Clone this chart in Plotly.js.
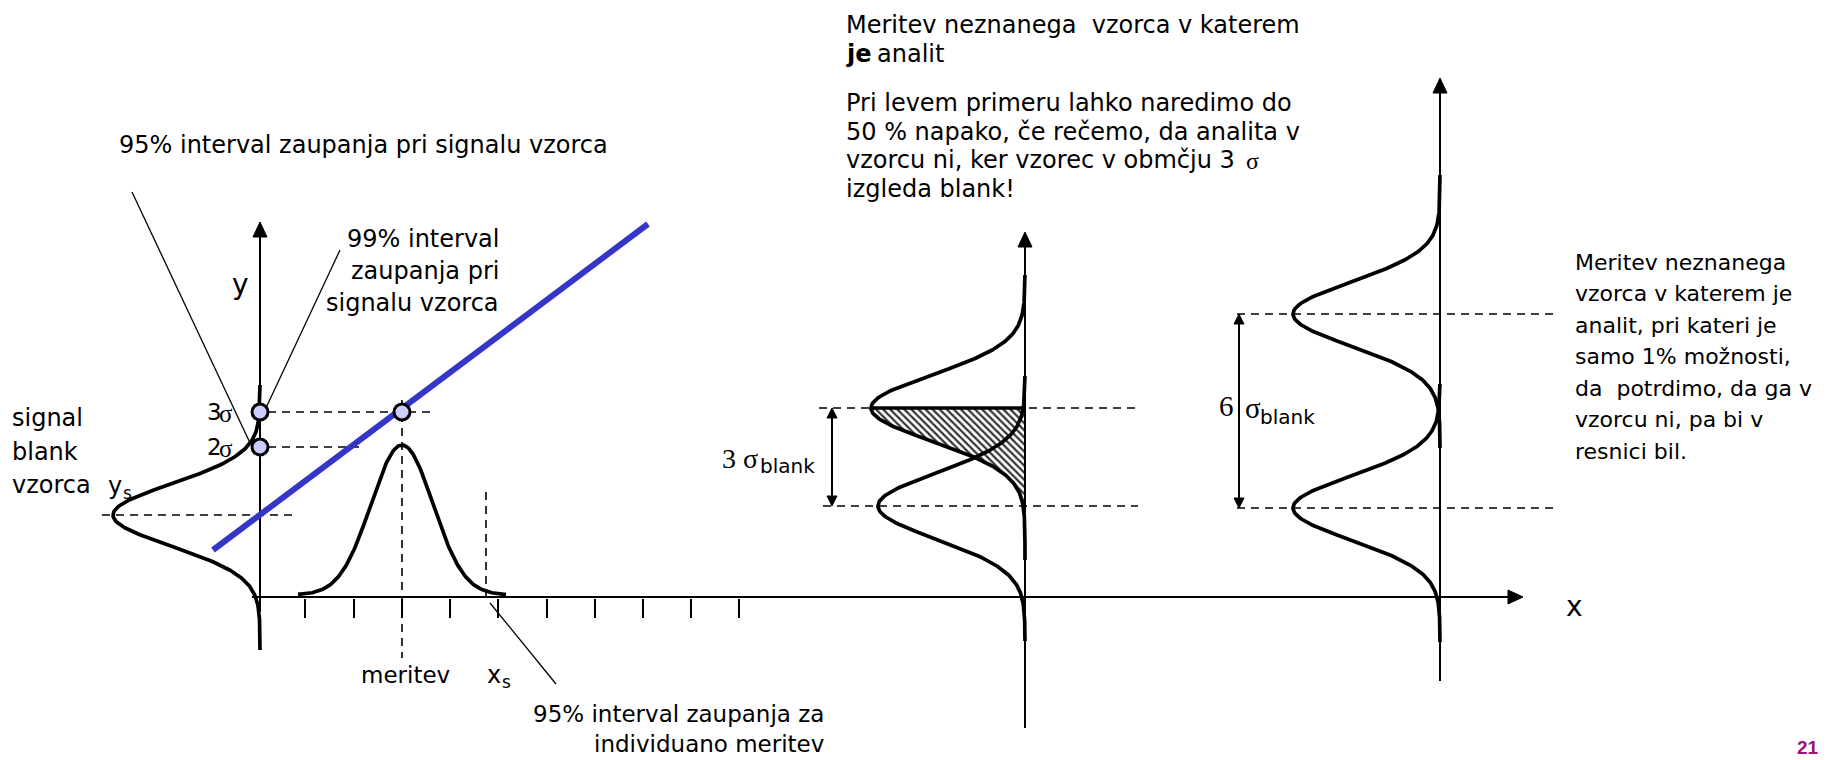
<!DOCTYPE html>
<html>
<head>
<meta charset="utf-8">
<script src="https://cdn.plot.ly/plotly-3.0.1.min.js"></script>
<style>
  html, body { margin: 0; padding: 0; background: #fff; }
  #chart { width: 1835px; height: 760px; }
</style>
</head>
<body>
<div id="chart"></div>
<script>
// Drawing units: one unit per pixel, y grows downward.

// ---- calibration panel ----
const xAxisLevel = 597;
const tickX = [305, 354, 402, 450, 498, 547, 595, 643, 691, 739];
const calibLineX = [213, 648];
const calibLineY = [550, 224];
const sigmaMarkY = [412, 447];          // 3σ and 2σ on the signal axis
const sigmaMarkText = ['3', '2'];
const measurementX = 402;               // "meritev"
const measurementY = 412;
const xsX = 486;
const blankMeanY = 515;

// upright normal curve of the measurement
const peakCenterX = 402, peakTopY = 445, peakBaseY = 595, peakSigma = 31;
const peakFromX = 298, peakToX = 506;

// sideways normal curves:
// calibration blank, middle blank, middle sample, right blank, right sample
const sideAxisX = [260, 1025, 1025, 1440, 1440];
const sideMeanY = [515, 506, 408, 508, 314];
const sideDepth = [147, 147, 154, 147, 147];
const sideSigma = [31, 33, 33, 32, 32];
const sideFromY = [385, 376, 275, 384, 175];
const sideToY   = [650, 641, 560, 642, 448];

// axes: [x0, y0, tipX, tipY]
const axes = [
  [260, 612, 260, 222],
  [252, 597, 1523, 597],
  [1025, 728, 1025, 232],
  [1440, 681, 1440, 78]
];
// two-headed span arrows: [x, yTop, yBottom]
const spans = [
  [832, 408, 506],
  [1239, 314, 508]
];

// ---- text ----
const topNote = [
  'Meritev neznanega  vzorca v katerem',
  null,
  'Pri levem primeru lahko naredimo do',
  '50 % napako, če rečemo, da analita v',
  'vzorcu ni, ker vzorec v obmčju 3',
  'izgleda blank!'
];
const topNoteY = [25, 54, 103, 132, 160, 189];

const rightNote = [
  'Meritev neznanega',
  'vzorca v katerem je',
  'analit, pri kateri je',
  'samo 1% možnosti,',
  'da  potrdimo, da ga v',
  'vzorcu ni, pa bi v',
  'resnici bil.'
];
const rightNoteY = [262, 293.5, 325, 356.5, 388, 419.5, 451];

const ci99Lines = ['99% interval', 'zaupanja pri', 'signalu vzorca'];
const ci99Y = [239, 271, 303];
const blankLabel = ['signal', 'blank', 'vzorca'];
const blankLabelY = [418, 452, 485];
const bottomNote = ['95% interval zaupanja za', 'individuano meritev'];
const bottomNoteY = [714, 744];
const pageNumber = '21';

// ---------------------------------------------------------------
const FONT = 'DejaVu Sans, sans-serif';
const SERIF = 'Liberation Serif, serif';
const traces = [];

function segs(list) {            // list of [[x0,y0],[x1,y1]] -> one trace with gaps
  const x = [], y = [];
  list.forEach(s => { x.push(s[0][0], s[1][0], null); y.push(s[0][1], s[1][1], null); });
  return {x, y};
}
function sideCurve(i, y0, y1) {
  const x = [], y = [];
  const a = y0 === undefined ? sideFromY[i] : y0;
  const b = y1 === undefined ? sideToY[i] : y1;
  for (let v = a; v <= b; v += 1) {
    const d = (v - sideMeanY[i]) / sideSigma[i];
    x.push(sideAxisX[i] - sideDepth[i] * Math.exp(-0.5 * d * d));
    y.push(v);
  }
  return {x, y};
}
// filled arrow head; returns triangle and the point where the shaft should stop
function head(tipX, tipY, fromX, fromY, len, half) {
  const L = Math.hypot(tipX - fromX, tipY - fromY);
  const ux = (tipX - fromX) / L, uy = (tipY - fromY) / L;
  const bx = tipX - ux * len, by = tipY - uy * len;
  return {
    x: [tipX, bx - uy * half, bx + uy * half, tipX, null],
    y: [tipY, by + ux * half, by - ux * half, tipY, null],
    stop: [bx + ux * 2, by + uy * 2]
  };
}

// dashed guide lines
const dashed = segs([
  [[102, blankMeanY], [292, blankMeanY]],
  [[268, sigmaMarkY[0]], [433, sigmaMarkY[0]]],
  [[268, sigmaMarkY[1]], [359, sigmaMarkY[1]]],
  [[measurementX, 400], [measurementX, 658]],
  [[xsX, 492], [xsX, xAxisLevel]],
  [[819, sideMeanY[2]], [1135, sideMeanY[2]]],
  [[823, sideMeanY[1]], [1138, sideMeanY[1]]],
  [[1237, sideMeanY[4]], [1556, sideMeanY[4]]],
  [[1237, sideMeanY[3]], [1556, sideMeanY[3]]]
]);
traces.push({type: 'scatter', mode: 'lines', x: dashed.x, y: dashed.y, hoverinfo: 'skip',
  line: {color: '#000', width: 1.6, dash: '8px,6px'}});

// hatched tail of the sample curve (middle panel)
{
  const c = sideCurve(2, sideMeanY[2], sideToY[2]);
  const hx = c.x.concat([sideAxisX[2], sideAxisX[2]]);
  const hy = c.y.concat([sideToY[2], sideMeanY[2]]);
  traces.push({type: 'scatter', mode: 'none', x: hx, y: hy, fill: 'toself', hoverinfo: 'skip',
    fillcolor: '#ffffff',
    fillpattern: {shape: '\\', fgcolor: '#333', bgcolor: '#ffffff', size: 5, solidity: 0.45}});
}

// axes and span arrows
{
  const shaft = [], heads = {x: [], y: []};
  axes.forEach(a => {
    const h = head(a[2], a[3], a[0], a[1], 15, 7);
    shaft.push([[a[0], a[1]], h.stop]);
    heads.x.push(...h.x); heads.y.push(...h.y);
  });
  spans.forEach(s => {
    const h1 = head(s[0], s[1], s[0], s[2], 10, 5);
    const h2 = head(s[0], s[2], s[0], s[1], 10, 5);
    shaft.push([h1.stop, h2.stop]);
    heads.x.push(...h1.x, ...h2.x); heads.y.push(...h1.y, ...h2.y);
  });
  const sh = segs(shaft);
  traces.push({type: 'scatter', mode: 'lines', x: sh.x, y: sh.y, hoverinfo: 'skip',
    line: {color: '#000', width: 2}});
  traces.push({type: 'scatter', mode: 'lines', x: heads.x, y: heads.y, fill: 'toself',
    fillcolor: '#000', hoverinfo: 'skip', line: {color: '#000', width: 1}});
}

// x axis ticks
const ticks = segs(tickX.map(t => [[t, xAxisLevel + 2], [t, xAxisLevel + 21]]));
traces.push({type: 'scatter', mode: 'lines', x: ticks.x, y: ticks.y, hoverinfo: 'skip',
  line: {color: '#000', width: 2}});

// leader lines
const leaders = segs([
  [[132, 192], [251, 445]],
  [[340, 250], [265, 410]],
  [[490, 603], [556, 684]]
]);
traces.push({type: 'scatter', mode: 'lines', x: leaders.x, y: leaders.y, hoverinfo: 'skip',
  line: {color: '#000', width: 1.3}});

// sideways normal curves
for (let i = 0; i < sideAxisX.length; i++) {
  const c = sideCurve(i);
  traces.push({type: 'scatter', mode: 'lines', x: c.x, y: c.y, hoverinfo: 'skip',
    line: {color: '#000', width: 3.7}});
}
// upper edge of the hatched area
traces.push({type: 'scatter', mode: 'lines', hoverinfo: 'skip',
  x: [sideAxisX[2] - sideDepth[2], sideAxisX[2]], y: [sideMeanY[2], sideMeanY[2]],
  line: {color: '#000', width: 3.5}});

// upright measurement curve
{
  const x = [], y = [];
  for (let v = peakFromX; v <= peakToX; v += 1) {
    const d = (v - peakCenterX) / peakSigma;
    x.push(v);
    y.push(peakBaseY - (peakBaseY - peakTopY) * Math.exp(-0.5 * d * d));
  }
  traces.push({type: 'scatter', mode: 'lines', x, y, hoverinfo: 'skip',
    line: {color: '#000', width: 3.7}});
}

// calibration line
traces.push({type: 'scatter', mode: 'lines', x: calibLineX, y: calibLineY, hoverinfo: 'skip',
  line: {color: '#3535c8', width: 6}});

// marked points
traces.push({type: 'scatter', mode: 'markers', hoverinfo: 'skip',
  x: [sideAxisX[0], sideAxisX[0], measurementX],
  y: [sigmaMarkY[0], sigmaMarkY[1], measurementY],
  marker: {size: 16, color: '#ccccff', line: {color: '#000', width: 3}}});

// ---- annotations ----
const ann = [];
function label(text, x, y, anchor, size, family, weight, color) {
  ann.push({x, y, xref: 'x', yref: 'y', text, showarrow: false,
    xanchor: anchor, yanchor: 'middle', align: anchor === 'right' ? 'right' : 'left',
    font: {family: family || FONT, size, color: color || '#000', weight: weight || 'normal'}});
}

label('95% interval zaupanja pri signalu vzorca', 117, 145, 'left', 24);
ci99Lines.forEach((t, i) => label(t, 501, ci99Y[i], 'right', 24));
blankLabel.forEach((t, i) => label(t, 10, blankLabelY[i], 'left', 24));
label('y', 106, 486, 'left', 24);
label('s', 121, 493, 'left', 17);
label('y', 240, 284, 'center', 28);
sigmaMarkText.forEach((t, i) => {
  label(t, 224, sigmaMarkY[i], 'right', 23);
  label('σ', 217, sigmaMarkY[i] + 1, 'left', 25, SERIF);
});
label('meritev', 405, 675, 'center', 23);
label('x', 485, 675, 'left', 24);
label('s', 500, 682, 'left', 17);
bottomNote.forEach((t, i) => label(t, 826, bottomNoteY[i], 'right', 23));
topNote.forEach((t, i) => { if (t) label(t, 844, topNoteY[i], 'left', 24); });
label('je', 844, topNoteY[1], 'left', 24, FONT, 'bold');
label('analit', 875, topNoteY[1], 'left', 24);
label('σ', 1244, topNoteY[4] + 1, 'left', 24, SERIF);
rightNote.forEach((t, i) => label(t, 1573, rightNoteY[i], 'left', 22));
label('3 σ', 720, 458, 'left', 28, SERIF);
label('blank', 758, 466, 'left', 20);
label('6', 1236, 406, 'right', 29, SERIF);
label('σ', 1243, 408, 'left', 29, SERIF);
label('blank', 1258, 417, 'left', 20);
label('x', 1574, 606, 'center', 28);
label(pageNumber, 1808, 747, 'center', 19, 'Liberation Sans, sans-serif', 'bold', '#a0107a');

const layout = {
  width: 1835, height: 760,
  margin: {l: 0, r: 0, t: 0, b: 0, pad: 0},
  paper_bgcolor: '#ffffff', plot_bgcolor: '#ffffff',
  showlegend: false,
  xaxis: {range: [0, 1835], visible: false, fixedrange: true},
  yaxis: {range: [760, 0], visible: false, fixedrange: true},
  annotations: ann
};

Plotly.newPlot('chart', traces, layout, {staticPlot: true, displayModeBar: false});
</script>
</body>
</html>
